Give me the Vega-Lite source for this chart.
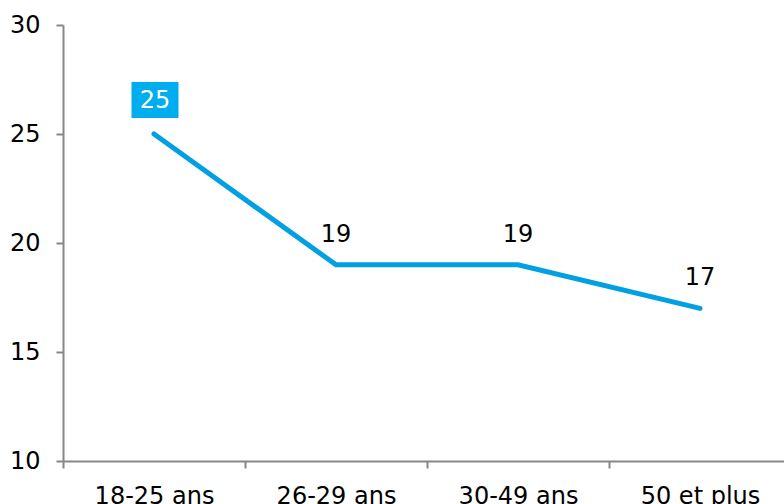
{
  "$schema": "https://vega.github.io/schema/vega-lite/v6.json",
  "autosize": {"type": "none"},
  "width": 721,
  "height": 436,
  "padding": {"left": 63, "top": 25, "right": 0, "bottom": 43},
  "background": "white",
  "config": {
    "view": {"stroke": null},
    "font": "DejaVu Sans",
    "axis": {
      "domainColor": "#878787",
      "domainWidth": 2,
      "tickColor": "#878787",
      "tickWidth": 2,
      "tickSize": 7,
      "labelFont": "DejaVu Sans",
      "labelFontSize": 24,
      "labelColor": "#000000",
      "labelPadding": 16,
      "grid": false,
      "title": null
    }
  },
  "data": {
    "values": [
      {"age": "18-25 ans", "value": 25},
      {"age": "26-29 ans", "value": 19},
      {"age": "30-49 ans", "value": 19},
      {"age": "50 et plus", "value": 17}
    ]
  },
  "encoding": {
    "x": {
      "field": "age",
      "type": "nominal",
      "sort": null,
      "scale": {"type": "band", "paddingInner": 0, "paddingOuter": 0, "range": [0, 728]},
      "axis": {"labelAngle": 0, "tickBand": "extent", "labelBaseline": "top"}
    },
    "y": {
      "field": "value",
      "type": "quantitative",
      "scale": {"domain": [10, 30], "nice": false, "zero": false},
      "axis": {"values": [10, 15, 20, 25, 30], "labelBaseline": "middle"}
    }
  },
  "layer": [
    {
      "mark": {"type": "line", "color": "#00A0E2", "strokeWidth": 5, "strokeCap": "round"}
    },
    {
      "transform": [{"filter": "datum.age !== '18-25 ans'"}],
      "mark": {"type": "text", "baseline": "alphabetic", "align": "center", "dy": -23, "fontSize": 24, "color": "#000000"},
      "encoding": {"text": {"field": "value", "type": "quantitative"}}
    },
    {
      "transform": [{"filter": "datum.age === '18-25 ans'"}],
      "mark": {
        "type": "point",
        "shape": "M-1,-0.766H1V0.766H-1Z",
        "size": 2209,
        "filled": true,
        "opacity": 1,
        "color": "#00AEEF",
        "yOffset": -34,
        "xOffset": 1
      }
    },
    {
      "transform": [{"filter": "datum.age === '18-25 ans'"}],
      "mark": {"type": "text", "baseline": "alphabetic", "align": "center", "dy": -26, "dx": 1, "fontSize": 24, "color": "#FFFFFF"},
      "encoding": {"text": {"field": "value", "type": "quantitative"}}
    }
  ]
}
